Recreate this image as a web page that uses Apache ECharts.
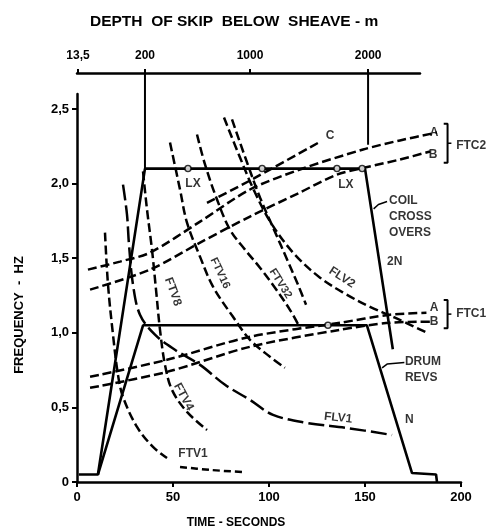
<!DOCTYPE html>
<html><head><meta charset="utf-8">
<script src="https://cdn.jsdelivr.net/npm/echarts@6/dist/echarts.min.js"></script>
<style>html,body{margin:0;padding:0;background:#fff}#c{width:496px;height:532px}</style>
</head><body><div id="c"></div>
<script>
// ---- axes ----
const timeTicks = [0, 50, 100, 150, 200];
const freqTicks = [0, 0.5, 1, 1.5, 2, 2.5];
const freqTickLabels = ['0', '0,5', '1,0', '1,5', '2,0', '2,5'];
const depthTickTimes = [0.5, 35.4, 90.1, 151.6];
const depthTickLabels = ['13,5', '200', '1000', '2000'];

// ---- series values [time s, frequency Hz] ----
const drumRevsN = [[1, 0.05], [10.9, 0.05], [34.4, 1.05], [151, 1.05], [174.5, 0.06], [187, 0.05], [187.5, 0]];
const coilCross2N = [[10.9, 0.05], [35.4, 2.1], [150, 2.1], [164.5, 0.89]];
const ftc2A = [[5.7, 1.423], [22.4, 1.477], [38, 1.537], [64.1, 1.745], [90.1, 1.96], [116.1, 2.094], [149, 2.228], [168.2, 2.289], [187.5, 2.342]];
const ftc2B = [[6.8, 1.289], [38, 1.423], [64.1, 1.604], [90.1, 1.779], [116.1, 1.94], [135.4, 2.06], [150, 2.107], [168.2, 2.161], [183.9, 2.215]];
const ftc1A = [[6.8, 0.705], [46.9, 0.819], [90.1, 0.973], [137, 1.067], [163, 1.121], [182, 1.134]];
const ftc1B = [[6.8, 0.631], [46.9, 0.738], [90.1, 0.906], [137, 1.02], [163, 1.067], [184, 1.074]];
const lineC = [[67.7, 1.87], [90.1, 2.02], [126.6, 2.28]];
const ftv1 = [[14.58, 1.671], [16.15, 1.322], [18.75, 0.987], [21.35, 0.718], [23.96, 0.57], [31.25, 0.369], [39.58, 0.235], [46.88, 0.161]];
const ftv1Tail = [[53.65, 0.101], [69.27, 0.081], [85.94, 0.067]];
const ftv4 = [[34.38, 2.081], [36.46, 1.826], [39.06, 1.557], [41.15, 1.289], [43.23, 1.02], [45.83, 0.785], [49.48, 0.617], [57.29, 0.47], [67.71, 0.349]];
const ftv8 = [[48.44, 2.275], [53.65, 1.96], [57.29, 1.738], [64.06, 1.51], [70.83, 1.309], [81.25, 1.107], [90.1, 0.953], [100.5, 0.839], [108.3, 0.765]];
const ftv16 = [[62.5, 2.329], [66.67, 2.128], [72.92, 1.893], [79.69, 1.691], [87.5, 1.557], [95.3, 1.436], [103.1, 1.302], [110.9, 1.154], [116.1, 1.034]];
const ftv32 = [[80.73, 2.43], [88.02, 2.161], [95.31, 1.906], [102.6, 1.691], [109.9, 1.477], [115.1, 1.322], [119.3, 1.188]];
const flv2 = [[76.56, 2.443], [84.9, 2.174], [92.7, 1.94], [101.6, 1.725], [113.5, 1.523], [126.6, 1.369], [139.6, 1.262], [152.6, 1.174], [165.6, 1.101], [182.3, 1.0]];
const flv1 = [[23.96, 1.993], [26.04, 1.792], [27.08, 1.591], [29.17, 1.322], [32.8, 1.121], [40.6, 0.987], [51, 0.886], [64.1, 0.785], [77.1, 0.651], [90.1, 0.55], [102.1, 0.45], [119.8, 0.396], [140.6, 0.362], [164.1, 0.315]];
const depth200Line = [[35.4, 2.1], [35.4, 2.752]];
const depth2000Line = [[151.6, 2.26], [151.6, 2.752]];
const crossoverPoints = [[57.8, 2.1], [96.4, 2.1], [135.4, 2.1], [148.5, 2.1], [130.7, 1.05]];
const bracketFTC2 = [[191, 2.40], [193, 2.40], [193, 2.14], [191, 2.14]];
const bracketFTC2Mid = [[193, 2.27], [195, 2.27]];
const bracketFTC1 = [[191, 1.22], [193, 1.22], [193, 1.03], [191, 1.03]];
const bracketFTC1Mid = [[193, 1.125], [195, 1.125]];
const leaderCoil = [[154.5, 1.83], [157, 1.86], [161.5, 1.88]];
const leaderDrum = [[158.9, 0.765], [161.5, 0.79], [170.5, 0.80]];

// ---- annotations: [time, freq, text, rotation, align] ----
const annotations = [
  [60.4, 0.19, 'FTV1', 0, 'center'],
  [55.5, 0.57, 'FTV4', -62, 'center'],
  [50, 1.275, 'FTV8', -70, 'center'],
  [74.5, 1.40, 'FTV16', -65, 'center'],
  [106, 1.33, 'FTV32', -58, 'center'],
  [138, 1.37, 'FLV2', -33, 'center'],
  [136, 0.43, 'FLV1', -6, 'center'],
  [60.4, 2.0, 'LX', 0, 'center'],
  [140, 1.99, 'LX', 0, 'center'],
  [131.8, 2.32, 'C', 0, 'center'],
  [186, 2.34, 'A', 0, 'center'],
  [185.5, 2.19, 'B', 0, 'center'],
  [197.5, 2.255, 'FTC2', 0, 'left'],
  [186, 1.165, 'A', 0, 'center'],
  [186, 1.075, 'B', 0, 'center'],
  [197.5, 1.125, 'FTC1', 0, 'left'],
  [162.5, 1.775, 'COIL\nCROSS\nOVERS', 0, 'left'],
  [161.5, 1.475, '2N', 0, 'left'],
  [170.8, 0.755, 'DRUM\nREVS', 0, 'left'],
  [170.8, 0.415, 'N', 0, 'left']
];

const FONT = 'Liberation Sans';
const BLACK = '#000';

function lineSeries(data, dash, opts) {
  return Object.assign({
    type: 'line', data: data, symbol: 'none', showSymbol: false, silent: true,
    lineStyle: { color: BLACK, width: 2.5, type: dash || 'solid' },
    xAxisIndex: 0, yAxisIndex: 0, clip: false, z: 3
  }, opts || {});
}
const DASH = [9, 4];

const chart = echarts.init(document.getElementById('c'), null, { renderer: 'canvas' });
chart.setOption({
  animation: false,
  backgroundColor: '#fff',
  textStyle: { fontFamily: FONT },
  grid: [
    { left: 77, right: 35, top: 94, bottom: 50 },
    { left: 77, top: 72, width: 343, height: 1 }
  ],
  xAxis: [
    {
      gridIndex: 0, type: 'value', min: 0, max: 200, interval: 50,
      axisLine: { lineStyle: { color: BLACK, width: 2.5 } },
      axisTick: { length: 5, lineStyle: { color: BLACK, width: 2 } },
      axisLabel: { color: BLACK, fontWeight: 'bold', fontSize: 13, fontFamily: FONT, margin: 9,
        formatter: v => timeTicks.indexOf(v) >= 0 ? String(v) : '' },
      splitLine: { show: false }
    },
    {
      gridIndex: 1, type: 'value', position: 'top', min: 0, max: 178.6,
      axisLine: { lineStyle: { color: BLACK, width: 2.5 } },
      axisTick: { length: 4, customValues: depthTickTimes, lineStyle: { color: BLACK, width: 2 } },
      axisLabel: { color: BLACK, fontWeight: 'bold', fontSize: 12, fontFamily: FONT, margin: 10,
        customValues: depthTickTimes,
        formatter: v => { const i = depthTickTimes.indexOf(v); return i >= 0 ? depthTickLabels[i] : ''; } },
      splitLine: { show: false }
    }
  ],
  yAxis: [
    {
      gridIndex: 0, type: 'value', min: 0, max: 2.6,
      axisLine: { show: true, lineStyle: { color: BLACK, width: 2.5 } },
      axisTick: { show: true, length: 5, customValues: freqTicks, lineStyle: { color: BLACK, width: 2 } },
      axisLabel: { color: BLACK, fontWeight: 'bold', fontSize: 13, fontFamily: FONT, margin: 8,
        customValues: freqTicks,
        formatter: v => { const i = freqTicks.indexOf(v); return i >= 0 ? freqTickLabels[i] : ''; } },
      splitLine: { show: false }
    },
    { gridIndex: 1, type: 'value', show: false, min: 0, max: 1 }
  ],
  graphic: [
    { type: 'text', left: 90, top: 14, style: { text: 'DEPTH  OF SKIP  BELOW  SHEAVE - m', fill: BLACK,
      font: 'bold 15.5px "' + FONT + '"' } },
    { type: 'text', x: 236, y: 523, style: { text: 'TIME - SECONDS', fill: BLACK, align: 'center', verticalAlign: 'middle',
      font: 'bold 12px "' + FONT + '"' } },
    { type: 'text', x: 19, y: 315, rotation: Math.PI / 2, style: { text: 'FREQUENCY  -  HZ', fill: BLACK, align: 'center', verticalAlign: 'middle',
      font: 'bold 13px "' + FONT + '"' } }
  ],
  series: [
    lineSeries(drumRevsN, 'solid', { lineStyle: { color: BLACK, width: 2.6 } }),
    lineSeries(coilCross2N, 'solid', { lineStyle: { color: BLACK, width: 2.6 } }),
    lineSeries(ftc2A, DASH, { smooth: 0.3 }),
    lineSeries(ftc2B, DASH, { smooth: 0.3 }),
    lineSeries(ftc1A, DASH, { smooth: 0.3 }),
    lineSeries(ftc1B, DASH, { smooth: 0.3 }),
    lineSeries(lineC, DASH, { smooth: 0.2 }),
    lineSeries(ftv1, DASH, { smooth: 0.35 }),
    lineSeries(ftv1Tail, [7, 4], { smooth: 0.3 }),
    lineSeries(ftv4, DASH, { smooth: 0.35 }),
    lineSeries(ftv8, DASH, { smooth: 0.35 }),
    lineSeries(ftv16, DASH, { smooth: 0.35 }),
    lineSeries(ftv32, DASH, { smooth: 0.35 }),
    lineSeries(flv2, DASH, { smooth: 0.35 }),
    lineSeries(flv1, [16, 5], { smooth: 0.35 }),
    lineSeries(depth200Line, 'solid', { lineStyle: { color: BLACK, width: 2 } }),
    lineSeries(depth2000Line, 'solid', { lineStyle: { color: BLACK, width: 2 } }),
    lineSeries(bracketFTC2, 'solid', { lineStyle: { color: BLACK, width: 2 } }),
    lineSeries(bracketFTC2Mid, 'solid', { lineStyle: { color: BLACK, width: 1.5 } }),
    lineSeries(bracketFTC1, 'solid', { lineStyle: { color: BLACK, width: 2 } }),
    lineSeries(bracketFTC1Mid, 'solid', { lineStyle: { color: BLACK, width: 1.5 } }),
    lineSeries(leaderCoil, 'solid', { lineStyle: { color: BLACK, width: 1.5 } }),
    lineSeries(leaderDrum, 'solid', { lineStyle: { color: BLACK, width: 1.5 } }),
    {
      type: 'scatter', data: crossoverPoints, symbol: 'circle', symbolSize: 6, silent: true, z: 4,
      itemStyle: { color: '#fff', borderColor: BLACK, borderWidth: 1.5 }
    },
    {
      type: 'scatter', silent: true, clip: false, z: 5, symbolSize: 0,
      data: annotations.map(a => ({
        value: [a[0], a[1]], name: a[2],
        label: { show: true, position: 'inside', formatter: '{b}', rotate: a[3], align: a[4],
          color: BLACK, fontWeight: 'bold', fontFamily: FONT,
          fontSize: a[2].length > 4 && a[2].indexOf('\n') < 0 ? 11 : 12, lineHeight: 16 }
      })),
      itemStyle: { color: 'transparent' }
    }
  ]
});
</script></body></html>
